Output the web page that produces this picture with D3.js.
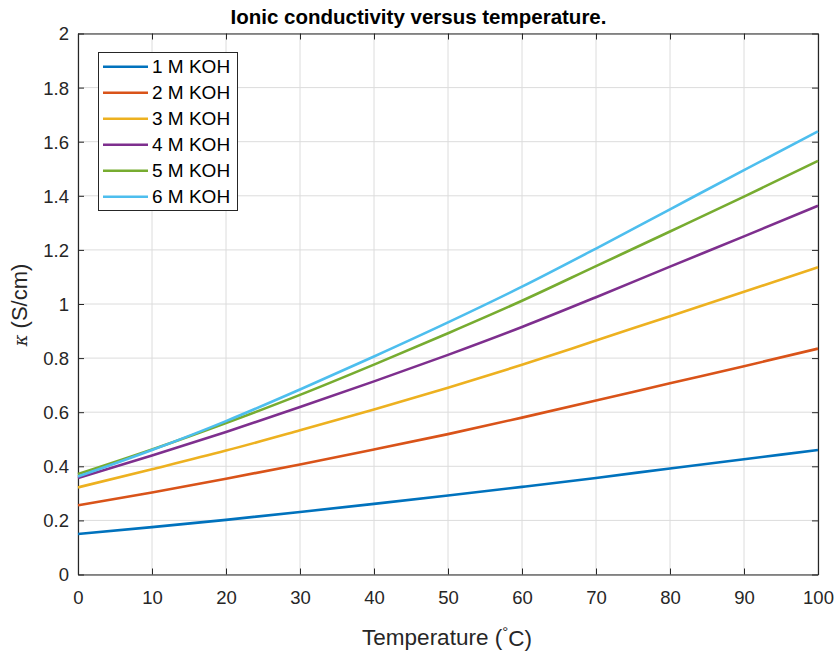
<!DOCTYPE html>
<html>
<head>
<meta charset="utf-8">
<script src="https://cdn.jsdelivr.net/npm/d3@7"></script>
<style>
  body { margin: 0; background: #fff; }
  svg { display: block; font-family: "Liberation Sans", Arial, Helvetica, sans-serif; }
</style>
</head>
<body>
<svg id="chart" width="837" height="652"></svg>
<script>
const temperatures = [0, 10, 20, 30, 40, 50, 60, 70, 80, 90, 100];
const seriesNames = ["1 M KOH", "2 M KOH", "3 M KOH", "4 M KOH", "5 M KOH", "6 M KOH"];
const koh1 = [0.150, 0.175, 0.202, 0.231, 0.261, 0.292, 0.324, 0.357, 0.392, 0.426, 0.460];
const koh2 = [0.256, 0.303, 0.354, 0.407, 0.462, 0.519, 0.580, 0.643, 0.707, 0.770, 0.835];
const koh3 = [0.322, 0.389, 0.458, 0.533, 0.610, 0.690, 0.775, 0.865, 0.955, 1.045, 1.136];
const koh4 = [0.357, 0.440, 0.527, 0.619, 0.714, 0.812, 0.915, 1.025, 1.138, 1.250, 1.363];
const koh5 = [0.371, 0.462, 0.560, 0.664, 0.776, 0.892, 1.012, 1.140, 1.268, 1.397, 1.529];
const koh6 = [0.362, 0.460, 0.567, 0.684, 0.806, 0.932, 1.064, 1.205, 1.350, 1.495, 1.638];
const seriesValues = [koh1, koh2, koh3, koh4, koh5, koh6];
const colors = ["#0072BD", "#D95319", "#EDB120", "#7E2F8E", "#77AC30", "#4DBEEE"];
const xTicks = [0, 10, 20, 30, 40, 50, 60, 70, 80, 90, 100];
const yTicks = [0, 0.2, 0.4, 0.6, 0.8, 1, 1.2, 1.4, 1.6, 1.8, 2];

const svg = d3.select("#chart");
const L = 78, R = 818, T = 33.5, B = 574.5;
const x = d3.scaleLinear().domain([0, 100]).range([L, R]);
const y = d3.scaleLinear().domain([0, 2]).range([B, T]);
const axisCol = "#262626";

// grid
const grid = svg.append("g");
grid.selectAll(".gx").data(xTicks).enter().append("line")
  .attr("x1", d => x(d)).attr("x2", d => x(d)).attr("y1", T).attr("y2", B)
  .attr("stroke", "#dcdcdc").attr("stroke-width", 1);
grid.selectAll(".gy").data(yTicks).enter().append("line")
  .attr("y1", d => y(d)).attr("y2", d => y(d)).attr("x1", L).attr("x2", R)
  .attr("stroke", "#dcdcdc").attr("stroke-width", 1);

// axes
const fs = "18.5px";
const xAxis = svg.append("g").attr("transform", `translate(0,${B})`)
  .call(d3.axisBottom(x).tickValues(xTicks).tickSizeInner(-6).tickSizeOuter(0).tickFormat(d3.format("d")));
const yAxis = svg.append("g").attr("transform", `translate(${L},0)`)
  .call(d3.axisLeft(y).tickValues(yTicks).tickSizeInner(-6).tickSizeOuter(0).tickFormat(d => d3.format("~g")(d)));
const xTop = svg.append("g").attr("transform", `translate(0,${T})`)
  .call(d3.axisTop(x).tickValues(xTicks).tickSizeInner(-6).tickSizeOuter(0).tickFormat(""));
const yRight = svg.append("g").attr("transform", `translate(${R},0)`)
  .call(d3.axisRight(y).tickValues(yTicks).tickSizeInner(-6).tickSizeOuter(0).tickFormat(""));
[xAxis, yAxis, xTop, yRight].forEach(g => {
  g.select(".domain").attr("stroke", axisCol).attr("stroke-width", 1.2);
  g.selectAll(".tick line").attr("stroke", axisCol).attr("stroke-width", 1);
  g.selectAll(".tick text").attr("fill", axisCol).style("font-size", fs)
   .style("font-family", "'Liberation Sans', Arial, sans-serif");
});
xAxis.selectAll(".tick text").attr("dy", "0.71em").attr("y", 16);
yAxis.selectAll(".tick text").attr("dy", "0.35em").attr("x", -9);

// lines
const line = d3.line().x((d, i) => x(temperatures[i])).y(d => y(d)).curve(d3.curveMonotoneX);
svg.append("g").selectAll("path").data(seriesValues).enter().append("path")
  .attr("d", d => line(d)).attr("fill", "none")
  .attr("stroke", (d, i) => colors[i]).attr("stroke-width", 2.6).attr("stroke-linejoin", "round");

// title
svg.append("text").attr("x", 418.5).attr("y", 24).attr("text-anchor", "middle")
  .style("font-size", "20.5px").style("font-weight", "bold").attr("fill", "#000")
  .text("Ionic conductivity versus temperature.");

// x label
const xl = svg.append("text").attr("x", 447).attr("y", 645).attr("text-anchor", "middle")
  .style("font-size", "22.5px").attr("fill", axisCol);
xl.append("tspan").text("Temperature (");
xl.append("tspan").text("°").style("font-size", "15px").attr("dy", "-0.55em");
xl.append("tspan").text("C)").attr("dy", "0.4em");

// y label
const yl = svg.append("text").attr("transform", "translate(27,305) rotate(-90)").attr("text-anchor", "middle")
  .style("font-size", "22px").attr("fill", axisCol);
yl.append("tspan").text("κ").style("font-style", "italic").style("font-family", "'DejaVu Serif', 'Liberation Serif', serif").style("font-size", "18px");
yl.append("tspan").text(" (S/cm)");

// legend
const lg = svg.append("g");
lg.append("rect").attr("x", 98.5).attr("y", 52.5).attr("width", 139).attr("height", 158)
  .attr("fill", "#fff").attr("stroke", axisCol).attr("stroke-width", 1);
const items = lg.selectAll("g.item").data(seriesNames).enter().append("g")
  .attr("transform", (d, i) => `translate(0,${66.7 + i * 26})`);
items.append("line").attr("x1", 103).attr("x2", 148).attr("y1", 0).attr("y2", 0)
  .attr("stroke", (d, i) => colors[i]).attr("stroke-width", 2.6);
items.append("text").attr("x", 152).attr("y", 0).attr("dy", "0.35em")
  .style("font-size", "19px").attr("fill", "#000").text(d => d);
</script>
</body>
</html>
